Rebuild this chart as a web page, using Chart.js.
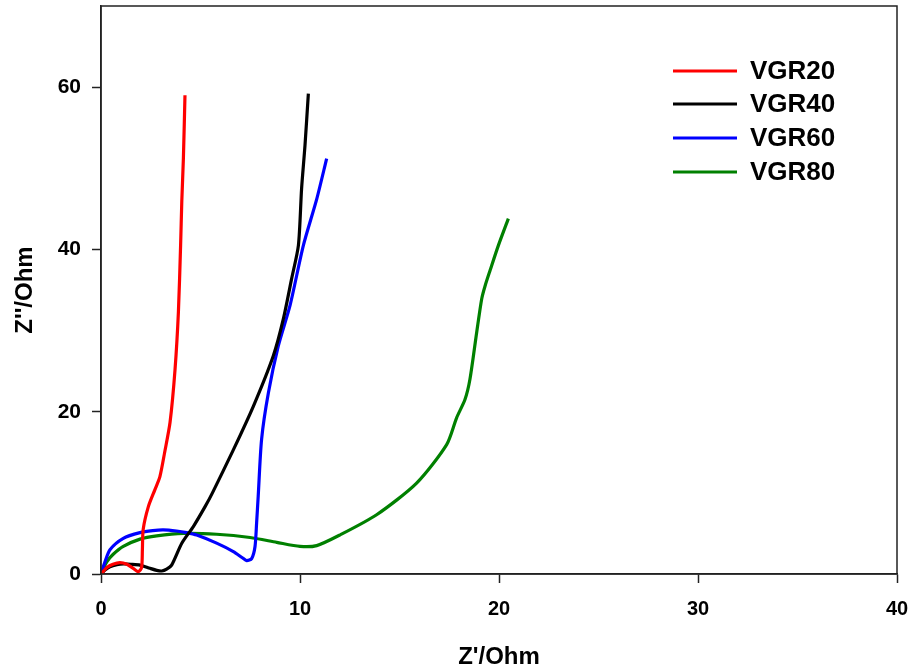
<!DOCTYPE html>
<html>
<head>
<meta charset="utf-8">
<script src="https://cdn.jsdelivr.net/npm/chart.js@4"></script>
<style>
  html, body { margin: 0; padding: 0; background: #fff; }
  #wrap { width: 912px; height: 669px; }
</style>
</head>
<body>
<div id="wrap"><canvas id="nyquistChart" width="912" height="669"></canvas></div>
<script>
// --- data (Z' / Z'' in Ohm) ---
const seriesLabels = ['VGR20', 'VGR40', 'VGR60', 'VGR80'];
const seriesColors = ['#ff0000', '#000000', '#0000ff', '#008000'];

const vgr20X = [0, 0.3, 0.6, 0.95, 1.3, 1.62, 1.88, 2.04, 2.08, 2.12, 2.38, 2.71, 2.96, 3.2, 3.47, 3.72, 3.89, 4.0, 4.06, 4.14, 4.22];
const vgr20Y = [0, 0.8, 1.2, 1.4, 1.2, 0.7, 0.3, 0.8, 3.0, 5.5, 8.3, 10.4, 12.0, 15.0, 18.7, 25.2, 32.3, 40.5, 45.9, 51.2, 59.0];

const vgr40X = [0, 0.2, 0.45, 0.8, 1.12, 1.5, 1.96, 2.46, 2.8, 3.05, 3.3, 3.55, 4.06, 4.64, 5.23, 5.6, 6.65, 7.66, 8.66, 9.16, 9.58, 9.92, 10.08, 10.25, 10.42];
const vgr40Y = [0, 0.5, 0.9, 1.15, 1.24, 1.2, 1.1, 0.7, 0.45, 0.37, 0.6, 1.1, 3.8, 5.85, 8.3, 10.0, 15.3, 20.7, 26.9, 31.4, 36.4, 40.5, 47.5, 52.8, 59.2];

const vgr60X = [0, 0.2, 0.45, 1.12, 1.96, 2.6, 3.13, 3.8, 4.3, 4.81, 5.81, 6.65, 7.1, 7.32, 7.57, 7.74, 7.82, 7.9, 8.07, 8.41, 8.91, 9.5, 10.17, 10.84, 11.34];
const vgr60Y = [0, 1.5, 3.0, 4.4, 5.1, 5.35, 5.44, 5.3, 5.1, 4.8, 3.8, 2.76, 2.0, 1.65, 1.9, 3.4, 6.3, 9.6, 16.6, 22.3, 28.1, 33.1, 40.5, 46.2, 51.2];

const vgr80X = [0, 0.29, 0.6, 1.12, 1.96, 2.8, 4.14, 5.81, 7.49, 8.83, 10.0, 10.84, 12.0, 13.85, 15.86, 17.37, 17.87, 18.29, 18.54, 18.88, 19.13, 19.3, 19.55, 19.97, 20.47];
const vgr80Y = [0, 1.5, 2.4, 3.4, 4.3, 4.7, 5.0, 4.9, 4.5, 3.9, 3.4, 3.5, 4.8, 7.3, 11.2, 15.95, 19.25, 21.5, 24.0, 29.8, 33.9, 35.5, 37.4, 40.5, 43.8];

// axis ticks
const xTicks = [0, 10, 20, 30, 40];
const yTicks = [0, 20, 40, 60];
const xRange = [0, 40];
const yRange = [0, 70];

const FONT = "'Liberation Sans', Arial, sans-serif";

function toPoints(xs, ys) {
    return xs.map((x, i) => ({ x: x, y: ys[i] }));
}

const allX = [vgr20X, vgr40X, vgr60X, vgr80X];
const allY = [vgr20Y, vgr40Y, vgr60Y, vgr80Y];

const datasets = seriesLabels.map((label, i) => ({
    label: label,
    data: toPoints(allX[i], allY[i]),
    borderColor: seriesColors[i],
    backgroundColor: seriesColors[i],
    borderWidth: 3.2,
    pointRadius: 0,
    tension: 0.25,
    fill: false
}));

// --- full box around the plot + legend drawn top right ---
const framePlugin = {
    id: 'frame',
    afterDraw(chart) {
        const { ctx, chartArea: a } = chart;
        ctx.save();
        ctx.strokeStyle = '#222';
        ctx.lineWidth = 1.5;
        ctx.strokeRect(a.left, a.top, a.right - a.left, a.bottom - a.top);

        // legend
        const rowY = [71, 104, 138, 172];
        ctx.font = 'bold 26px ' + FONT;
        ctx.textBaseline = 'middle';
        ctx.textAlign = 'left';
        chart.data.datasets.forEach((ds, i) => {
            ctx.strokeStyle = ds.borderColor;
            ctx.lineWidth = 3.2;
            ctx.beginPath();
            ctx.moveTo(673, rowY[i]);
            ctx.lineTo(737, rowY[i]);
            ctx.stroke();
            ctx.fillStyle = '#000';
            ctx.fillText(ds.label, 750, rowY[i] + 1);
        });
        ctx.restore();
    }
};

const ctx = document.getElementById('nyquistChart').getContext('2d');
new Chart(ctx, {
    type: 'line',
    data: { datasets: datasets },
    options: {
        responsive: false,
        animation: false,
        layout: { padding: { left: 0, top: 6, right: 15, bottom: 0 } },
        plugins: {
            legend: { display: false },
            tooltip: { enabled: false }
        },
        scales: {
            x: {
                type: 'linear',
                min: xRange[0],
                max: xRange[1],
                afterFit: (s) => { s.height = 95; s.paddingLeft = 0; s.paddingRight = 0; },
                afterBuildTicks: (s) => { s.ticks = xTicks.map(v => ({ value: v })); },
                grid: { drawOnChartArea: false, tickLength: 9, color: '#222', tickWidth: 1.5 },
                border: { display: true, color: '#222', width: 1.5 },
                ticks: {
                    padding: 14,
                    color: '#000',
                    maxRotation: 0,
                    font: { family: FONT, size: 20, weight: 'bold' }
                },
                title: {
                    display: true,
                    text: "Z'/Ohm",
                    color: '#000',
                    padding: 0,
                    font: { family: FONT, size: 24, weight: 'bold', lineHeight: 1 }
                }
            },
            y: {
                type: 'linear',
                min: yRange[0],
                max: yRange[1],
                afterFit: (s) => { s.width = 101; s.paddingTop = 0; s.paddingBottom = 0; },
                afterBuildTicks: (s) => { s.ticks = yTicks.map(v => ({ value: v })); },
                grid: { drawOnChartArea: false, tickLength: 9, color: '#222', tickWidth: 1.5 },
                border: { display: true, color: '#222', width: 1.5 },
                ticks: {
                    padding: 11,
                    color: '#000',
                    font: { family: FONT, size: 21, weight: 'bold' }
                },
                title: {
                    display: true,
                    text: "Z''/Ohm",
                    color: '#000',
                    padding: { top: 13, bottom: 0 },
                    font: { family: FONT, size: 24, weight: 'bold', lineHeight: 1 }
                }
            }
        }
    },
    plugins: [framePlugin]
});
</script>
</body>
</html>
